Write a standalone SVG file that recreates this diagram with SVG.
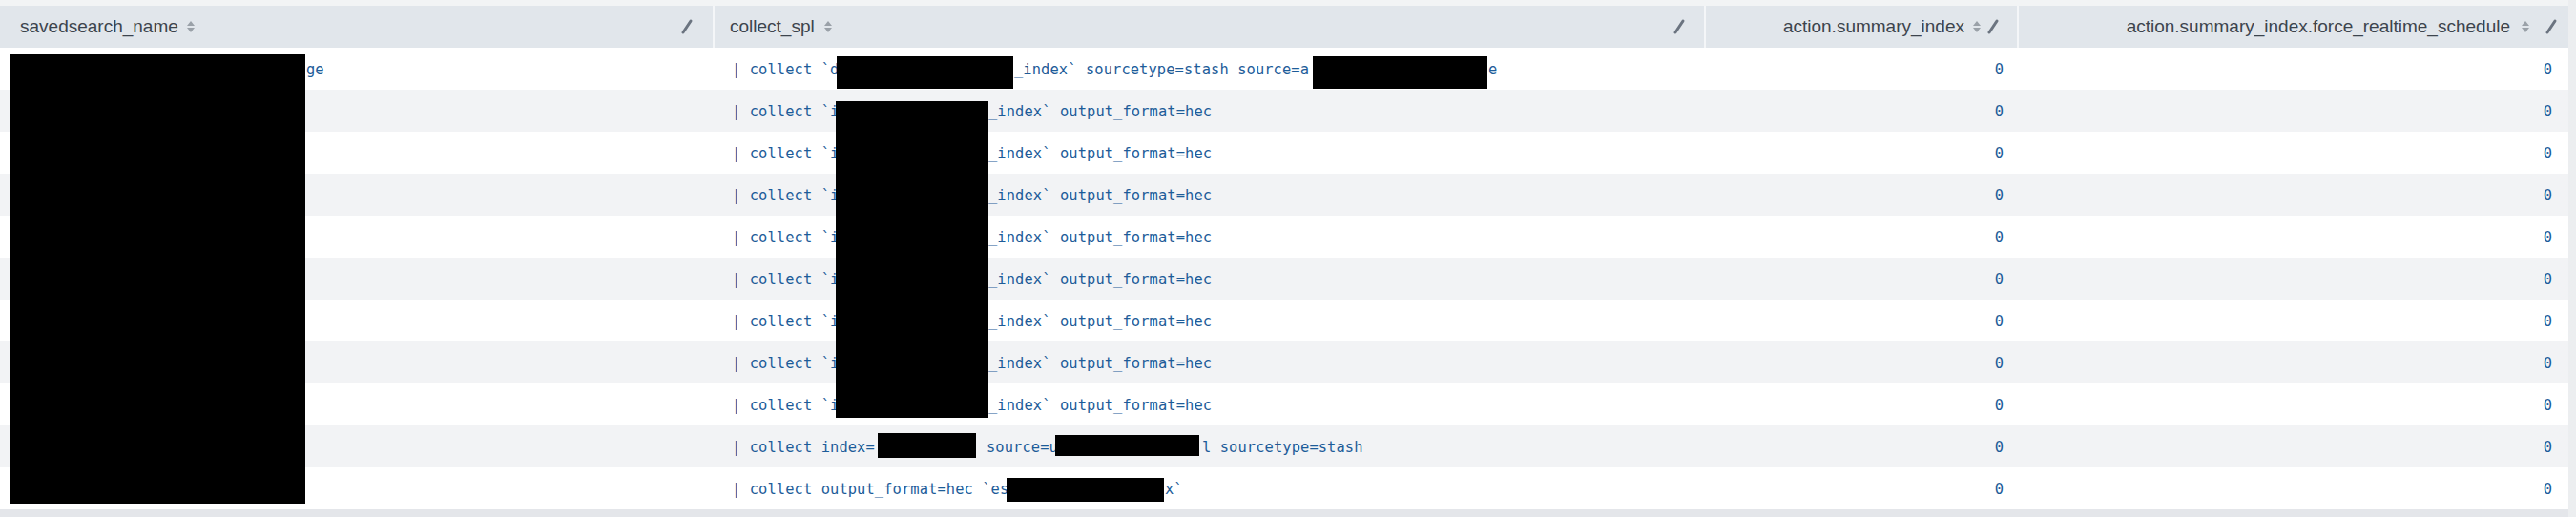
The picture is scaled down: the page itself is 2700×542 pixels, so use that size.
<svg xmlns="http://www.w3.org/2000/svg" width="2700" height="542" viewBox="0 0 2700 542">
<defs>
<style>
.h{font-family:"Liberation Sans",Arial,sans-serif;font-size:19px;fill:#3c444d}
.m{font-family:"DejaVu Sans Mono","Liberation Mono",monospace;font-size:15.4px;fill:#1d5c99;letter-spacing:0.1px}
.alt{fill:#f2f3f5}
.red{fill:#000}
.pen{stroke:#6b7480;stroke-width:3;stroke-linecap:round}
.srt{fill:#9aa1a8}
</style>
<g id="sort"><path class="srt" d="M-4,-1 L0,-6 L4,-1Z M-4,1 L0,6 L4,1Z"/></g>
<g id="pencil"><line class="pen" x1="-4" y1="6" x2="4" y2="-6"/></g>
</defs>
<rect width="2700" height="542" fill="#ffffff"/>
<rect width="2700" height="6" fill="#f2f4f5"/>
<rect x="0" y="6" width="2692" height="44" fill="#e1e6eb"/>
<g id="rows">
<rect class="alt" x="0" y="94" width="2692" height="44"/>
<rect class="alt" x="0" y="182" width="2692" height="44"/>
<rect class="alt" x="0" y="270" width="2692" height="44"/>
<rect class="alt" x="0" y="358" width="2692" height="44"/>
<rect class="alt" x="0" y="446" width="2692" height="44"/>
</g>
<rect x="0" y="534" width="2700" height="8" fill="#e4e6ea"/>
<rect x="2692" y="0" width="8" height="542" fill="#eceef0"/>
<g stroke="#f4f6f8" stroke-width="2">
<line x1="748" y1="6" x2="748" y2="50"/><line x1="1787" y1="6" x2="1787" y2="50"/><line x1="2115" y1="6" x2="2115" y2="50"/>
</g>
<g id="header">
<text class="h" x="21" y="34">savedsearch_name</text><use href="#sort" x="200" y="28"/><use href="#pencil" x="720" y="28"/>
<text class="h" x="765" y="34">collect_spl</text><use href="#sort" x="868" y="28"/><use href="#pencil" x="1760" y="28"/>
<text class="h" x="2059" y="34" text-anchor="end">action.summary_index</text><use href="#sort" x="2072" y="28"/><use href="#pencil" x="2089" y="28"/>
<text class="h" x="2631" y="34" text-anchor="end">action.summary_index.force_realtime_schedule</text><use href="#sort" x="2647" y="28"/><use href="#pencil" x="2674" y="28"/>
</g>
<g id="col1"><text class="m" x="321" y="78">ge</text></g>
<g id="col2">
<text class="m" y="78"><tspan x="767">| collect `d</tspan><tspan x="1063">_index` sourcetype=stash source=a</tspan><tspan x="1560">e</tspan></text>
<text class="m" y="122"><tspan x="767">| collect `i</tspan><tspan x="1036">_index` output_format=hec</tspan></text>
<text class="m" y="166"><tspan x="767">| collect `i</tspan><tspan x="1036">_index` output_format=hec</tspan></text>
<text class="m" y="210"><tspan x="767">| collect `i</tspan><tspan x="1036">_index` output_format=hec</tspan></text>
<text class="m" y="254"><tspan x="767">| collect `i</tspan><tspan x="1036">_index` output_format=hec</tspan></text>
<text class="m" y="298"><tspan x="767">| collect `i</tspan><tspan x="1036">_index` output_format=hec</tspan></text>
<text class="m" y="342"><tspan x="767">| collect `i</tspan><tspan x="1036">_index` output_format=hec</tspan></text>
<text class="m" y="386"><tspan x="767">| collect `i</tspan><tspan x="1036">_index` output_format=hec</tspan></text>
<text class="m" y="430"><tspan x="767">| collect `i</tspan><tspan x="1036">_index` output_format=hec</tspan></text>
<text class="m" y="474"><tspan x="767">| collect index=</tspan><tspan x="1034">source=u</tspan><tspan x="1260">l sourcetype=stash</tspan></text>
<text class="m" y="518"><tspan x="767">| collect output_format=hec `es</tspan><tspan x="1221">x`</tspan></text>
</g>
<g id="col3" text-anchor="end">
<text class="m" x="2100" y="78">0</text><text class="m" x="2100" y="122">0</text><text class="m" x="2100" y="166">0</text><text class="m" x="2100" y="210">0</text><text class="m" x="2100" y="254">0</text><text class="m" x="2100" y="298">0</text><text class="m" x="2100" y="342">0</text><text class="m" x="2100" y="386">0</text><text class="m" x="2100" y="430">0</text><text class="m" x="2100" y="474">0</text><text class="m" x="2100" y="518">0</text>
</g>
<g id="col4" text-anchor="end">
<text class="m" x="2675" y="78">0</text><text class="m" x="2675" y="122">0</text><text class="m" x="2675" y="166">0</text><text class="m" x="2675" y="210">0</text><text class="m" x="2675" y="254">0</text><text class="m" x="2675" y="298">0</text><text class="m" x="2675" y="342">0</text><text class="m" x="2675" y="386">0</text><text class="m" x="2675" y="430">0</text><text class="m" x="2675" y="474">0</text><text class="m" x="2675" y="518">0</text>
</g>
<g id="redactions">
<rect class="red" x="11" y="57" width="309" height="471"/>
<rect class="red" x="877" y="59" width="185" height="34"/>
<rect class="red" x="1376" y="59" width="183" height="34"/>
<rect class="red" x="876" y="106" width="160" height="332"/>
<rect class="red" x="920" y="454" width="103" height="26"/>
<rect class="red" x="1106" y="456" width="151" height="22"/>
<rect class="red" x="1055" y="501" width="165" height="25"/>
</g>
</svg>
